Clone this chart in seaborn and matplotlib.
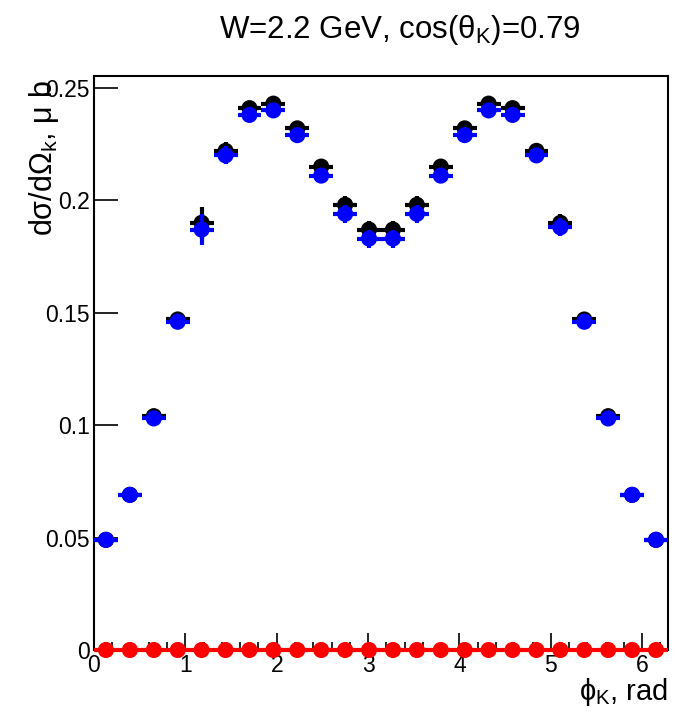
import numpy as np
import pandas as pd
import matplotlib
matplotlib.use("Agg")
import matplotlib.pyplot as plt
import seaborn as sns

# ---- data ----
n_bins = 24
bin_width = 2 * np.pi / n_bins
phi = (np.arange(n_bins) + 0.5) * bin_width

black_y = [0.049, 0.069, 0.104, 0.147, 0.190, 0.222, 0.241, 0.243, 0.232, 0.215, 0.198, 0.187,
           0.187, 0.198, 0.215, 0.232, 0.243, 0.241, 0.222, 0.190, 0.147, 0.104, 0.069, 0.049]
black_err = [0.002, 0.002, 0.002, 0.003, 0.007, 0.004, 0.003, 0.003, 0.003, 0.003, 0.004, 0.004,
             0.004, 0.004, 0.003, 0.003, 0.003, 0.003, 0.003, 0.004, 0.003, 0.003, 0.002, 0.002]
blue_y = [0.049, 0.069, 0.103, 0.146, 0.187, 0.220, 0.238, 0.240, 0.229, 0.211, 0.194, 0.183,
          0.183, 0.194, 0.211, 0.229, 0.240, 0.238, 0.220, 0.188, 0.146, 0.103, 0.069, 0.049]
blue_err = [0.002, 0.002, 0.002, 0.003, 0.007, 0.004, 0.003, 0.003, 0.003, 0.003, 0.004, 0.004,
            0.004, 0.004, 0.003, 0.003, 0.003, 0.003, 0.003, 0.004, 0.003, 0.003, 0.002, 0.002]
red_y = [0.0] * n_bins

df = pd.DataFrame({"phi": np.concatenate([phi, phi, phi]),
                   "y": black_y + blue_y + red_y,
                   "series": ["black"] * n_bins + ["blue"] * n_bins + ["red"] * n_bins})

sns.set_style("ticks")
plt.rcParams['font.family'] = ['Liberation Sans', 'DejaVu Sans']
plt.rcParams['mathtext.fontset'] = 'custom'
plt.rcParams['mathtext.rm'] = 'Liberation Sans'
plt.rcParams['mathtext.it'] = 'Liberation Sans'
plt.rcParams['text.color'] = 'black'
plt.rcParams['xtick.color'] = 'black'
plt.rcParams['ytick.color'] = 'black'
plt.rcParams['xtick.labelcolor'] = 'black'
plt.rcParams['ytick.labelcolor'] = 'black'

fig = plt.figure(figsize=(6.98, 7.21), dpi=100)
ax = fig.add_axes([94 / 698, 71 / 721, (668 - 94) / 698, (650 - 76) / 721])

colors = {"black": "#000000", "blue": "#0000ff", "red": "#ff0000"}
errs = {"black": black_err, "blue": blue_err, "red": [0.0] * n_bins}
for i, name in enumerate(["black", "blue", "red"]):
    sub = df[df.series == name]
    eb = ax.errorbar(sub.phi, sub.y, xerr=bin_width / 2, yerr=errs[name], fmt="none",
                     ecolor=colors[name], elinewidth=3, capsize=0, zorder=2 + 2 * i)
    for coll in eb.lines[2]:
        coll.set_clip_on(False)
    sns.scatterplot(data=sub, x="phi", y="y", color=colors[name], s=135,
                    edgecolor="none", ax=ax, zorder=3 + 2 * i, legend=False, clip_on=False)

ax.set_xlim(0, 2 * np.pi)
ax.set_ylim(0, 0.2553)
ax.set_xticks([0, 1, 2, 3, 4, 5, 6])
ax.set_xticklabels(["0", "1", "2", "3", "4", "5", "6"])
ax.set_xticks(np.arange(0.2, 6.3, 0.2), minor=True)
ax.set_yticks([0, 0.05, 0.1, 0.15, 0.2, 0.25])
ax.set_yticklabels(["0", "0.05", "0.1", "0.15", "0.2", "0.25"])
ax.tick_params(axis="x", which="major", direction="in", length=12, width=1.2,
               labelsize=16.5, pad=3, top=False)
ax.tick_params(axis="x", which="minor", direction="in", length=6, width=1.2, top=False)
ax.tick_params(axis="y", which="major", direction="in", length=17, width=1.2,
               labelsize=16.5, pad=3, right=False)
for sp in ax.spines.values():
    sp.set_linewidth(1.5)
    sp.set_color("black")
    sp.set_zorder(1)
ax.set_xlabel("")
ax.set_ylabel("")

fig.text(400 / 698, 1 - 30 / 721, r"W=2.2 GeV, cos($\theta_{K}$)=0.79", ha="center",
         va="center", fontsize=22.5)
fig.text(668 / 698, 1 - 692 / 721, r"$\phi_{K}$, rad", ha="right", va="center", fontsize=21)
fig.text(44 / 698, 1 - 80 / 721, r"d$\sigma$/d$\Omega_{k}$, $\mu$ b", ha="center", va="top",
         rotation=90, fontsize=22)

fig.savefig("out.png", dpi=100)
